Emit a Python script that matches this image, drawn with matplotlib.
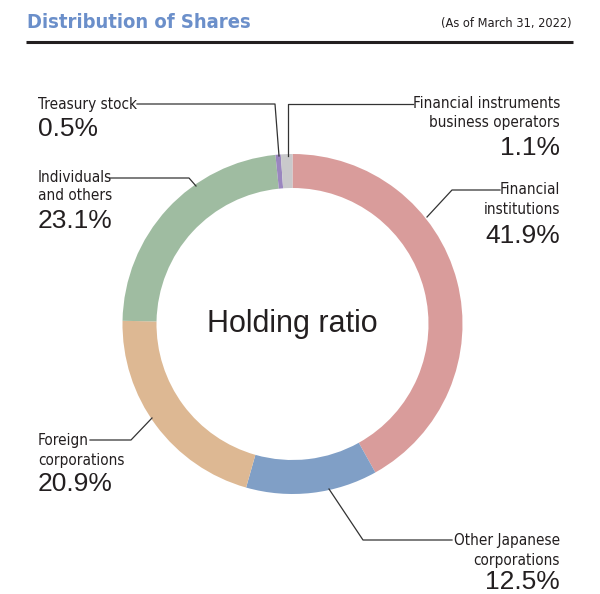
import matplotlib
matplotlib.use("Agg")
import matplotlib.pyplot as plt

# shares held, clockwise from 12 o'clock
categories = ["Financial institutions", "Other Japanese corporations",
              "Foreign corporations", "Individuals and others",
              "Treasury stock", "Financial instruments business operators"]
shares = [41.9, 12.5, 20.9, 23.1, 0.5, 1.1]
colors = ["#d99c9b", "#809fc6", "#ddb893", "#9fbca1", "#9a86bf", "#c9c9cb"]

W, H = 600, 594
NARROW = dict(family=["DejaVu Sans"], fontstretch="condensed")
REG = dict(family=["Liberation Sans", "DejaVu Sans"])
TXT = "#231f20"


def Y(y):
    # image pixel row -> data y (y up)
    return H - y


fig = plt.figure(figsize=(W / 100, H / 100), dpi=100)
ax = fig.add_axes([0, 0, 1, 1])

cx, cy, r = 292.5, 324, 170
ax.pie(shares, colors=colors, startangle=90, counterclock=False,
       radius=r, center=(cx, Y(cy)),
       wedgeprops=dict(width=34, edgecolor="none"))
ax.set_xlim(0, W)
ax.set_ylim(0, H)
ax.set_aspect("equal")
ax.axis("off")

# header
ax.text(27, Y(22), "Distribution of Shares", fontweight="bold",
        fontsize=14.5, color="#6b8fca", va="center", ha="left", **NARROW)
ax.text(572, Y(24), "(As of March 31, 2022)", fontsize=9.2,
        color=TXT, va="center", ha="right", **NARROW)
ax.plot([26, 573], [Y(42), Y(42)], color="#231f20", lw=2.2,
        solid_capstyle="butt")

ax.text(cx, Y(cy), "Holding ratio", fontsize=22, color=TXT,
        ha="center", va="center", **REG)

# leader lines (pixel paths)
leaders = [
    [(137, 104), (275, 104), (279, 156)],            # treasury
    [(413, 104), (288, 104), (288, 156)],            # fin. instruments
    [(110, 178), (189, 178), (196, 186)],            # individuals
    [(500, 190), (452, 190), (427, 217)],            # financial inst.
    [(90, 440), (131, 440), (152, 418)],             # foreign
    [(452, 540), (363, 540), (329, 489)],            # other japanese
]
for path in leaders:
    xs = [p[0] for p in path]
    ys = [Y(p[1]) for p in path]
    ax.plot(xs, ys, color="#333333", lw=0.9)

small, big = 11, 19
labels = [
    # (x, y, text, size, ha)
    (38, 104, "Treasury stock", small, "left"),
    (38, 129, "0.5%", big, "left"),
    (560, 103, "Financial instruments", small, "right"),
    (560, 123, "business operators", small, "right"),
    (560, 148, "1.1%", big, "right"),
    (38, 177, "Individuals", small, "left"),
    (38, 196, "and others", small, "left"),
    (38, 221, "23.1%", big, "left"),
    (560, 190, "Financial", small, "right"),
    (560, 210, "institutions", small, "right"),
    (560, 236, "41.9%", big, "right"),
    (38, 440, "Foreign", small, "left"),
    (38, 460, "corporations", small, "left"),
    (38, 484, "20.9%", big, "left"),
    (560, 540, "Other Japanese", small, "right"),
    (560, 561, "corporations", small, "right"),
    (560, 582, "12.5%", big, "right"),
]
for x, y, s, fs, ha in labels:
    fam = REG if s.endswith("%") else NARROW
    ax.text(x, Y(y), s, fontsize=fs, color=TXT, ha=ha, va="center", **fam)

fig.savefig("out.png", dpi=100, facecolor="white")
